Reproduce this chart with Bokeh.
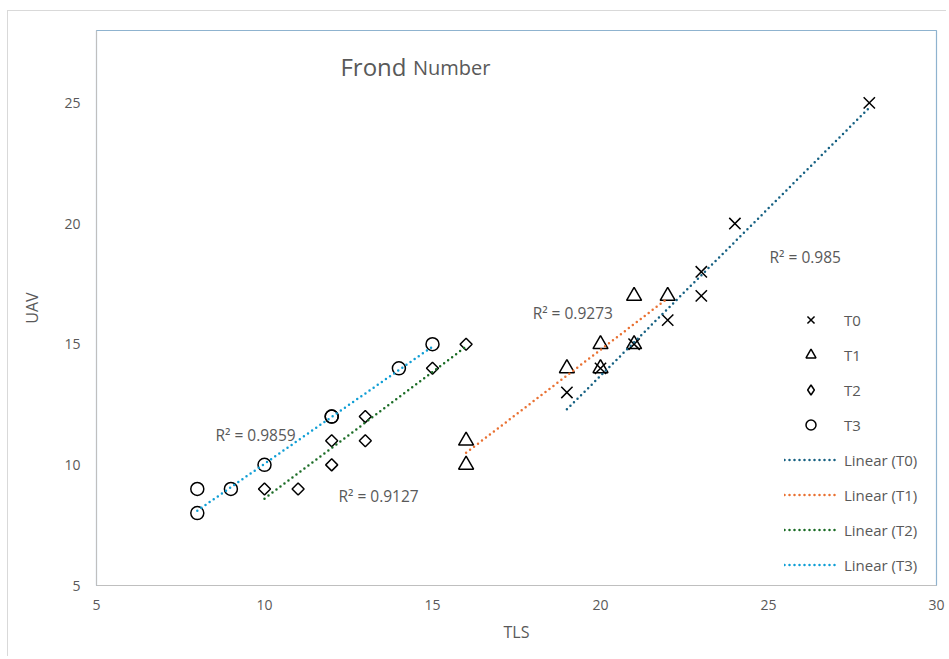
from bokeh.plotting import figure
from bokeh.models import Range1d, FixedTicker, Legend, LegendItem, ColumnDataSource
from bokeh.core.properties import value
from bokeh.embed import file_html
from bokeh.resources import INLINE
import math

# ---- data ----
t0_x = [19, 20, 21, 22, 23, 23, 24, 28]
t0_y = [13, 14, 15, 16, 18, 17, 20, 25]
t1_x = [16, 16, 19, 20, 20, 21, 21, 22]
t1_y = [11, 10, 14, 15, 14, 17, 15, 17]
t2_x = [10, 11, 12, 12, 13, 13, 15, 16]
t2_y = [9, 9, 10, 11, 11, 12, 14, 15]
t3_x = [8, 8, 9, 10, 12, 12, 14, 15]
t3_y = [9, 8, 9, 10, 12, 12, 14, 15]

# linear trendlines (end points)
trend_names = ["T0", "T1", "T2", "T3"]
trend_x0 = [19, 16, 10, 8]
trend_x1 = [28, 22, 16, 15]
trend_y0 = [12.3, 10.5, 8.6, 8.1]
trend_y1 = [24.8, 16.9, 14.9, 14.9]
trend_colors = ["#156082", "#E97132", "#196B24", "#0F9ED5"]

r2_text = ["R² = 0.985", "R² = 0.9273", "R² = 0.9127", "R² = 0.9859"]
r2_x = [25.03, 17.98, 12.2, 8.54]
r2_y = [18.62, 16.3, 8.69, 11.25]

x_ticks = [5, 10, 15, 20, 25, 30]
y_ticks = [5, 10, 15, 20, 25]

FONT = "Open Sans"
GRAY = "#595959"

p = figure(width=939, height=646, output_backend="svg", toolbar_location=None,
           x_range=Range1d(5, 30), y_range=Range1d(5, 28),
           min_border_left=88, min_border_right=11, min_border_top=19, min_border_bottom=72)
p.styles = {"border-top": "1px solid #d9d9d9", "border-left": "1px solid #d9d9d9",
            "margin-top": "10px", "margin-left": "7px"}
p.xgrid.visible = False
p.ygrid.visible = False
p.outline_line_color = "#8fb3cf"
p.outline_line_width = 1.2

for ax in (p.xaxis[0], p.yaxis[0]):
    ax.axis_line_color = "#bfbfbf"
    ax.major_tick_line_color = None
    ax.minor_tick_line_color = None
    ax.major_tick_out = 0
    ax.major_label_text_font = FONT
    ax.major_label_text_font_size = "14px"
    ax.major_label_text_color = GRAY
    ax.axis_label_text_font = FONT
    ax.axis_label_text_font_size = "16px"
    ax.axis_label_text_color = GRAY
    ax.axis_label_text_font_style = "normal"

p.xaxis.ticker = FixedTicker(ticks=x_ticks)
p.yaxis.ticker = FixedTicker(ticks=y_ticks)
p.xaxis.axis_label = "TLS"
p.yaxis.axis_label = "UAV"
p.xaxis.major_label_standoff = 14
p.yaxis.major_label_standoff = 16
p.xaxis.axis_label_standoff = 8
p.yaxis.axis_label_standoff = 18

mk = dict(line_color="black", fill_color=None, line_width=1.5)
r_t0 = p.scatter(t0_x, t0_y, marker="x", size=16, **mk)
r_t1 = p.scatter(t1_x, t1_y, marker="triangle", size=15, **mk)
r_t2 = p.scatter(t2_x, t2_y, marker="square", size=8.5, angle=math.pi / 4, **mk)
r_t3 = p.scatter(t3_x, t3_y, marker="circle", size=13, **mk)
# legend-only glyph for T2 (legend markers are not rotated); no visible point
r_t2_leg = p.scatter(x=[float("nan")], y=[float("nan")], marker="diamond", size=10, **mk)

trend_renderers = []
for i in range(4):
    r = p.line([trend_x0[i], trend_x1[i]], [trend_y0[i], trend_y1[i]],
               line_color=trend_colors[i], line_width=2.5, line_dash="0 5",
               line_cap="round")
    trend_renderers.append(r)

src = ColumnDataSource(dict(x=r2_x, y=r2_y, t=r2_text))
p.text(x="x", y="y", text="t", source=src, text_font=value(FONT),
       text_font_size="15.5px", text_color=GRAY, text_baseline="middle",
       text_align="left")

p.text(x=[12.26], y=[26.49], text=["Frond"], text_font=value(FONT),
       text_font_size="24px", text_color=GRAY, text_baseline="middle", text_align="left")
p.text(x=[14.42], y=[26.45], text=["Number"], text_font=value(FONT),
       text_font_size="20px", text_color=GRAY, text_baseline="middle", text_align="left")

items = [LegendItem(label=n, renderers=[r]) for n, r in
         zip(trend_names, [r_t0, r_t1, r_t2_leg, r_t3])]
items += [LegendItem(label="Linear (%s)" % n, renderers=[r]) for n, r in
          zip(trend_names, trend_renderers)]
legend = Legend(items=items, location=(688, 8), glyph_width=53, glyph_height=25,
                spacing=10, padding=0, margin=0, label_standoff=7,
                border_line_color=None, background_fill_alpha=0,
                label_text_font=FONT, label_text_font_size="15px",
                label_text_color=GRAY)
p.add_layout(legend, "center")

open("out.html", "w").write(file_html(p, INLINE))
